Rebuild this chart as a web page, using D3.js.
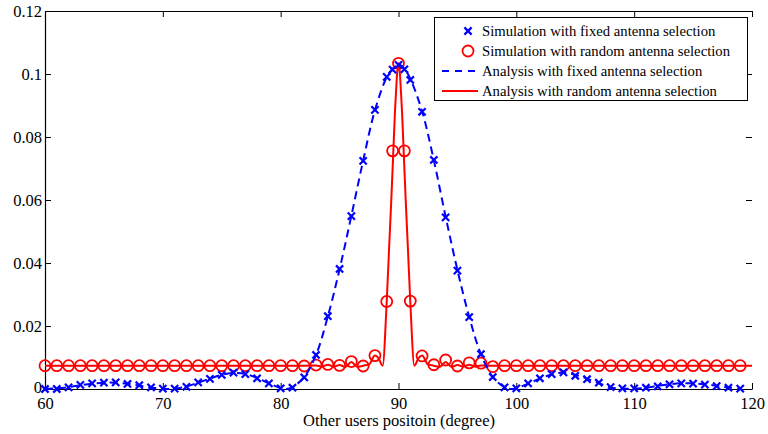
<!DOCTYPE html>
<html>
<head>
<meta charset="utf-8">
<script src="https://cdn.jsdelivr.net/npm/d3@7"></script>
<style>
  html, body { margin: 0; padding: 0; background: #fff; }
  svg { display: block; }
</style>
</head>
<body>
<svg id="chart" width="768" height="434"></svg>
<script>
// ---------- data ----------
const xTicks = [60, 70, 80, 90, 100, 110, 120];
const yTicks = [0, 0.02, 0.04, 0.06, 0.08, 0.1, 0.12];
const yTickLabels = ["0", "0.02", "0.04", "0.06", "0.08", "0.1", "0.12"];
const xLabel = "Other users positoin (degree)";
const legendLabels = [
  "Simulation with fixed antenna selection",
  "Simulation with random antenna selection",
  "Analysis with fixed antenna selection",
  "Analysis with random antenna selection"
];

// simulation positions (degree)
const simDeg = [60,61,62,63,64,65,66,67,68,69,70,71,72,73,74,75,76,77,78,79,
  80,81,82,83,84,85,86,87,88,89,89.5,90,90.5,91,92,93,94,95,96,97,98,99,
  100,101,102,103,104,105,106,107,108,109,110,111,112,113,114,115,116,117,118,119];

const simFixed = [0.0000,0.0000,0.0005,0.0013,0.0018,0.0020,0.0021,0.0016,0.0012,0.0005,
  0.0001,0.0001,0.0007,0.0021,0.0032,0.0045,0.0052,0.0047,0.0034,0.0018,
  0.0002,0.0004,0.0037,0.0108,0.0231,0.0381,0.0549,0.0724,0.0886,0.0991,0.1014,0.1029,0.1015,0.0981,
  0.0880,0.0727,0.0545,0.0376,0.0228,0.0111,0.0038,0.0005,
  0.0002,0.0018,0.0034,0.0047,0.0053,0.0042,0.0031,0.0020,0.0006,0.0002,
  0.0002,0.0004,0.0008,0.0015,0.0018,0.0017,0.0014,0.0009,0.0004,0.0001];

const simRandom = [0.0074,0.0074,0.0074,0.0074,0.0074,0.0074,0.0074,0.0074,0.0074,0.0074,
  0.0074,0.0074,0.0074,0.0074,0.0074,0.0074,0.0074,0.0074,0.0074,0.0074,
  0.0074,0.0074,0.0073,0.0076,0.0078,0.0075,0.0087,0.0073,0.0106,0.0278,0.0756,0.1034,0.0756,0.0279,
  0.0105,0.0077,0.0092,0.0073,0.0083,0.0082,0.0071,0.0074,
  0.0074,0.0074,0.0074,0.0074,0.0074,0.0074,0.0074,0.0074,0.0074,0.0074,
  0.0074,0.0074,0.0074,0.0074,0.0074,0.0074,0.0074,0.0074,0.0074,0.0074];

// analysis, fixed antenna selection
const anaFixedDeg = [60,61,62,63,64,65,66,67,68,69,70,71,72,73,74,75,76,77,78,79,
  80,80.5,81,82,83,84,85,86,87,88,89,89.5,90,90.5,91,92,93,94,95,96,97,98,99,99.5,
  100,101,102,103,104,105,106,107,108,109,110,111,112,113,114,115,116,117,118,119];
const anaFixed = [0.0000,0.0002,0.0006,0.0012,0.0017,0.0020,0.0020,0.0017,0.0011,0.0005,
  0.0001,0.0001,0.0008,0.0020,0.0033,0.0045,0.0051,0.0048,0.0035,0.0018,
  0.0003,0.0000,0.0006,0.0038,0.0108,0.0230,0.0380,0.0550,0.0725,0.0885,0.0990,0.1017,0.1030,0.1017,0.0985,
  0.0882,0.0726,0.0547,0.0378,0.0229,0.0110,0.0038,0.0006,0.0000,
  0.0002,0.0017,0.0033,0.0046,0.0052,0.0045,0.0033,0.0019,0.0005,0.0001,
  0.0001,0.0004,0.0010,0.0015,0.0018,0.0018,0.0015,0.0010,0.0005,0.0001];

// analysis, random antenna selection
const anaRandomDeg = [60,70,80,82,83,83.5,84,84.5,85,85.5,86,86.5,87,87.5,88,88.3,88.65,
  89,89.2,89.4,89.6,89.7,89.8,89.9,90,90.1,90.2,90.3,90.4,90.6,90.8,91,
  91.35,91.7,92,92.5,93,93.5,94,94.5,95,95.5,96,96.5,97,97.5,98,100,110,120];
const anaRandom = [0.0074,0.0074,0.0074,0.0074,0.0075,0.0071,0.0077,0.0071,0.0076,0.0070,0.0086,0.0070,0.0074,0.0078,0.0106,0.0098,0.0074,
  0.0278,0.0445,0.0610,0.0790,0.0880,0.0950,0.1010,0.1034,0.1010,0.0950,0.0880,0.0790,0.0610,0.0445,0.0278,
  0.0074,0.0098,0.0106,0.0078,0.0074,0.0070,0.0086,0.0070,0.0076,0.0071,0.0077,0.0071,0.0075,0.0074,0.0074,0.0074,0.0074,0.0074];

// ---------- layout ----------
const FONT = "'Liberation Serif'";
const svg = d3.select("#chart");
const W = 768, H = 434;
const plot = { left: 45, right: 752, top: 11, bottom: 389 };
const blue = "#0000ff", red = "#ff0000";

svg.append("rect").attr("width", W).attr("height", H).attr("fill", "#fff");

const x = d3.scaleLinear().domain([60, 120]).range([plot.left, plot.right]);
const y = d3.scaleLinear().domain([0, 0.12]).range([plot.bottom, plot.top]);

// ---------- axes ----------
const tickLen = 6;
const bottomAxis = d3.axisBottom(x).tickValues(xTicks).tickSizeInner(-tickLen).tickSizeOuter(0).tickPadding(8).tickFormat(d3.format("d"));
const topAxis = d3.axisTop(x).tickValues(xTicks).tickSizeInner(-tickLen).tickSizeOuter(0).tickFormat("");
const leftAxis = d3.axisLeft(y).tickValues(yTicks).tickSizeInner(-tickLen).tickSizeOuter(0).tickPadding(3)
  .tickFormat((d, i) => yTickLabels[i]);
const rightAxis = d3.axisRight(y).tickValues(yTicks).tickSizeInner(-tickLen).tickSizeOuter(0).tickFormat("");

function styleAxis(g, showDomain) {
  g.select(".domain").attr("stroke", showDomain ? "#000" : "none").attr("stroke-width", 1.2);
  g.selectAll(".tick line").attr("stroke", "#000").attr("stroke-width", 1);
  g.selectAll(".tick text").style("font-family", FONT).style("font-size", "16.5px").attr("fill", "#000");
}

svg.append("g").attr("transform", `translate(0,${plot.bottom})`).call(bottomAxis).call(g => styleAxis(g, true));
svg.append("g").attr("transform", `translate(0,${plot.top})`).call(topAxis).call(g => styleAxis(g, true));
const gLeft = svg.append("g").attr("transform", `translate(${plot.left},0)`).call(leftAxis).call(g => styleAxis(g, true));
// lift the "0" label slightly so it clears the "60" label below it
gLeft.selectAll(".tick text").filter(d => d === 0).attr("dy", "0.2em");
svg.append("g").attr("transform", `translate(${plot.right},0)`).call(rightAxis).call(g => styleAxis(g, false));

svg.append("text").attr("x", 399).attr("y", 426)
  .attr("text-anchor", "middle").style("font-family", FONT).style("font-size", "16.5px").attr("fill", "#000").text(xLabel);

// ---------- series ----------
const lineFixed = d3.line().x(d => x(d[0])).y(d => y(d[1])).curve(d3.curveCatmullRom.alpha(0.5));
const lineRandom = d3.line().x(d => x(d[0])).y(d => y(d[1])).curve(d3.curveMonotoneX);

const fixedPts = anaFixedDeg.map((d, i) => [d, anaFixed[i]]);
const randomPts = anaRandomDeg.map((d, i) => [d, anaRandom[i]]);

// simulation random (circles)
const circR = 5.5;
svg.append("g").selectAll("circle").data(simDeg.map((d, i) => [d, simRandom[i]])).join("circle")
  .attr("cx", d => x(d[0])).attr("cy", d => y(d[1])).attr("r", circR)
  .attr("fill", "none").attr("stroke", red).attr("stroke-width", 1.8);

// analysis random (solid)
svg.append("path").datum(randomPts).attr("d", lineRandom)
  .attr("fill", "none").attr("stroke", red).attr("stroke-width", 2);

// analysis fixed (dashed)
svg.append("path").datum(fixedPts).attr("d", lineFixed)
  .attr("fill", "none").attr("stroke", blue).attr("stroke-width", 2).attr("stroke-dasharray", "8,5");

// simulation fixed (x markers)
const xs = 3.6;
const crossPath = `M${-xs},${-xs}L${xs},${xs}M${-xs},${xs}L${xs},${-xs}`;
svg.append("g").selectAll("path").data(simDeg.map((d, i) => [d, simFixed[i]])).join("path")
  .attr("transform", d => `translate(${x(d[0])},${y(d[1])})`)
  .attr("d", crossPath).attr("fill", "none").attr("stroke", blue).attr("stroke-width", 2.2);

// ---------- legend ----------
const lg = svg.append("g");
lg.append("rect").attr("x", 434.5).attr("y", 17.5).attr("width", 313).attr("height", 83)
  .attr("fill", "#fff").attr("stroke", "#000").attr("stroke-width", 1);
const rowY = [31, 51, 71, 91];
const mx = 468;
lg.append("path").attr("transform", `translate(${mx},${rowY[0]})`).attr("d", crossPath)
  .attr("fill", "none").attr("stroke", blue).attr("stroke-width", 2.2);
lg.append("circle").attr("cx", mx).attr("cy", rowY[1]).attr("r", circR)
  .attr("fill", "none").attr("stroke", red).attr("stroke-width", 1.8);
lg.append("line").attr("x1", 442).attr("x2", 478).attr("y1", rowY[2]).attr("y2", rowY[2])
  .attr("stroke", blue).attr("stroke-width", 2).attr("stroke-dasharray", "7,6");
lg.append("line").attr("x1", 442).attr("x2", 478).attr("y1", rowY[3]).attr("y2", rowY[3])
  .attr("stroke", red).attr("stroke-width", 2);
lg.selectAll("text.lab").data(legendLabels).join("text").attr("class", "lab")
  .attr("x", 482).attr("y", (d, i) => rowY[i]).attr("dy", "0.35em")
  .style("font-family", FONT).style("font-size", "14.7px").attr("fill", "#000").text(d => d);
</script>
</body>
</html>
